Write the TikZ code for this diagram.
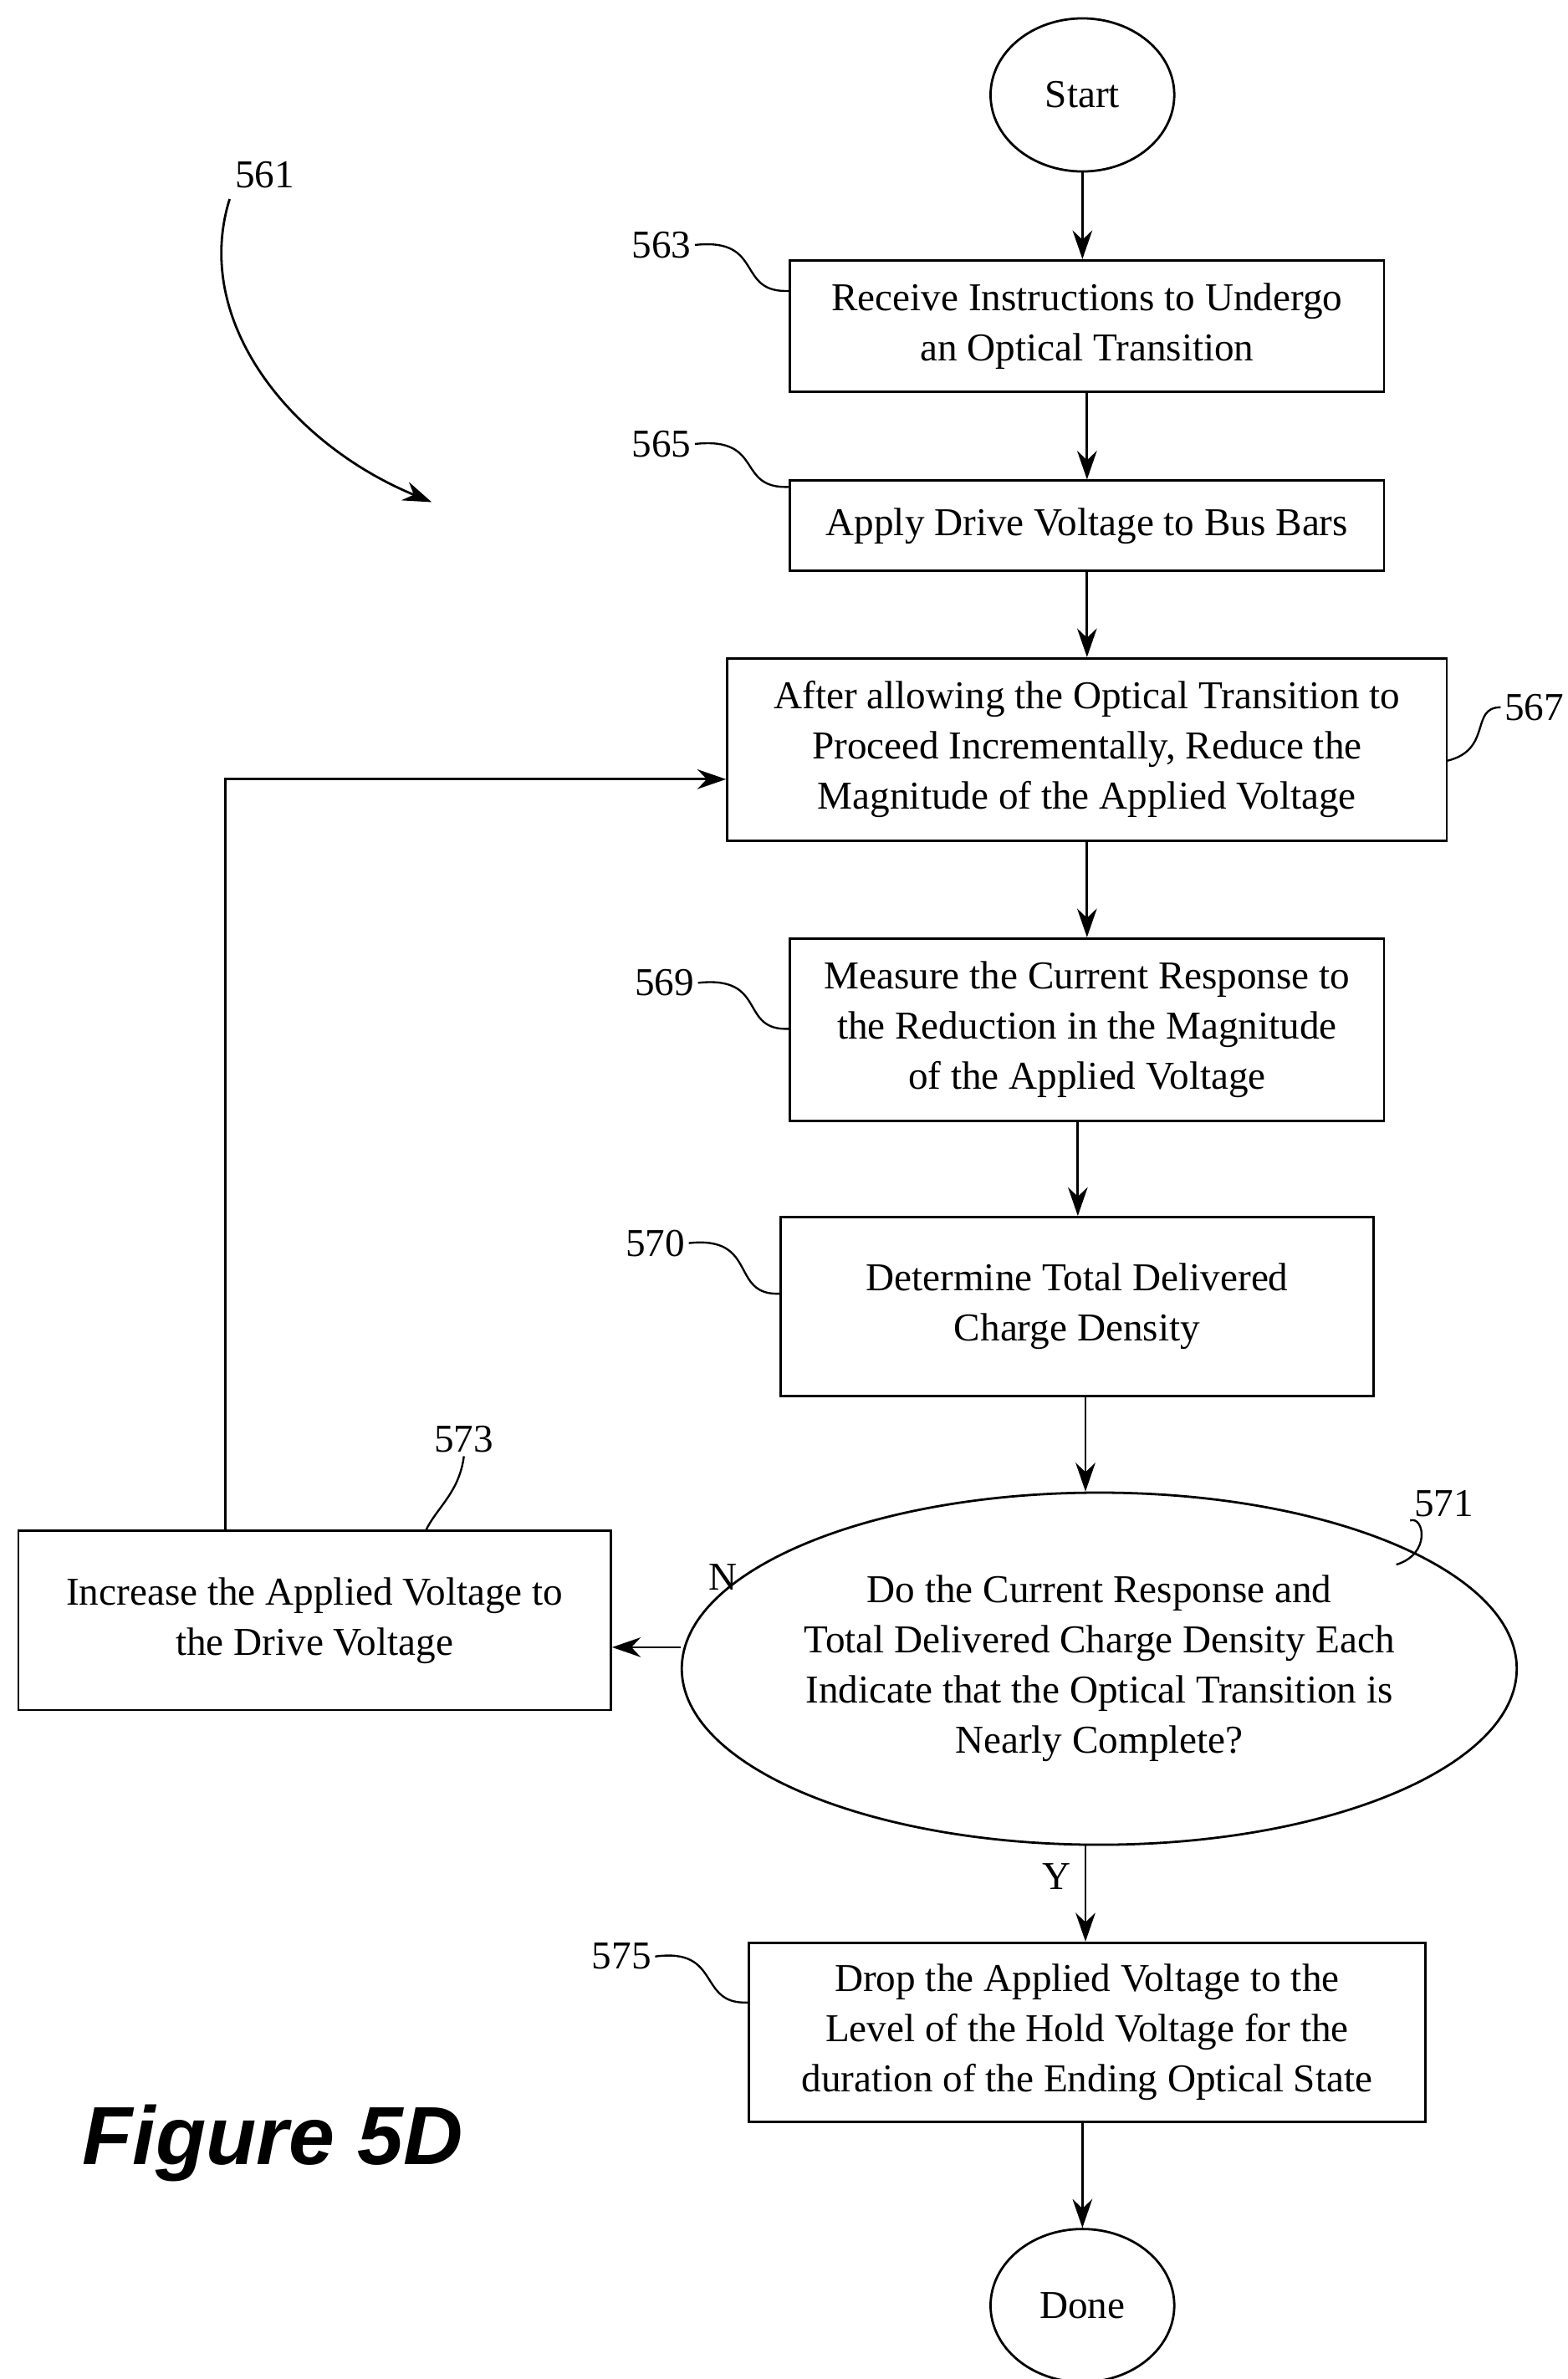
\documentclass[tikz,border=0pt]{standalone}
\usepackage{fontspec}
\setmainfont{Liberation Serif}
\newfontfamily\figfont{Liberation Sans}
\usetikzlibrary{arrows.meta,shapes.geometric}
\begin{document}
\begin{tikzpicture}[x=0.03cm,y=-0.03cm,
  every node/.style={font=\fontsize{22}{28}\selectfont},
  box/.style={draw,line width=1.3pt,rectangle,align=center,inner sep=0pt},
  oval/.style={draw,line width=1.3pt,ellipse,align=center,inner sep=0pt},
  arr/.style={line width=1.3pt,-{Stealth[length=16pt,width=11pt]}},
  lead/.style={line width=1.1pt},
  lbl/.style={inner sep=2pt}]
\useasboundingbox (0,0) rectangle (1024,1554);
\node[oval,minimum width=3.6cm,minimum height=3cm] (start) at (707,62) {Start};
\node[box,minimum width=11.64cm,minimum height=2.58cm] (b563) at (710,213) {Receive Instructions to Undergo\\an Optical Transition};
\node[box,minimum width=11.64cm,minimum height=1.77cm] (b565) at (710,343.5) {Apply Drive Voltage to Bus Bars};
\node[box,minimum width=14.1cm,minimum height=3.57cm] (b567) at (710,489.5) {After allowing the Optical Transition to\\Proceed Incrementally, Reduce the\\Magnitude of the Applied Voltage};
\node[box,minimum width=11.64cm,minimum height=3.57cm] (b569) at (710,672.5) {Measure the Current Response to\\the Reduction in the Magnitude\\of the Applied Voltage};
\node[box,minimum width=11.61cm,minimum height=3.51cm] (b570) at (703.5,853.5) {Determine Total Delivered\\Charge Density};
\node[oval,minimum width=13.98cm,minimum height=6.9cm] (d571) at (718,1090) {Do the Current Response and\\Total Delivered Charge Density Each\\Indicate that the Optical Transition is\\Nearly Complete?};
\node[box,minimum width=11.61cm,minimum height=3.51cm] (b573) at (205.5,1058.5) {Increase the Applied Voltage to\\the Drive Voltage};
\node[box,minimum width=13.26cm,minimum height=3.51cm] (b575) at (710,1327.5) {Drop the Applied Voltage to the\\Level of the Hold Voltage for the\\duration of the Ending Optical State};
\node[oval,minimum width=3.6cm,minimum height=3cm] (done) at (707,1506) {Done};

\draw[arr] (start) -- (b563.north -| start);
\draw[arr] (b563) -- (b565);
\draw[arr] (b565) -- (b567);
\draw[arr] (b567) -- (b569);
\draw[arr] (b569.south -| 704,0) -- (b570.north -| 704,0);
\draw[arr] (b570.south -| 709,0) -- (d571.north -| 709,0);
\draw[arr] (d571.south -| 709,0) -- (b575.north -| 709,0);
\draw[arr] (b575.south -| 707,0) -- (done);
\draw[arr] (d571.west |- 0,1076) -- (b573.east |- 0,1076);
\draw[arr] (b573.north -| 147,0) -- (147,509) -- (b567.west |- 0,509);
\node at (472,1030) {N};
\node at (690,1226) {Y};

\node[lbl] (l561) at (173,114) {561};
\coordinate (t561) at (282,328);
\draw[arr] (150,130) .. controls (125,210) and (190,290) .. (t561);
\node[lbl] (l563) at (432,160) {563};
\coordinate (c563) at (516,190);
\draw[lead] (l563.east) .. controls (500,155) and (480,192) .. (c563);
\node[lbl] (l565) at (432,290) {565};
\coordinate (c565) at (516,318);
\draw[lead] (l565.east) .. controls (500,285) and (480,320) .. (c565);
\node[lbl] (l567) at (1002,462) {567};
\coordinate (c567) at (945,497);
\draw[lead] (c567) .. controls (975,490) and (960,462) .. (l567.west);
\node[lbl] (l569) at (434,642) {569};
\coordinate (c569) at (516,672);
\draw[lead] (l569.east) .. controls (502,637) and (482,674) .. (c569);
\node[lbl] (l570) at (428,812) {570};
\coordinate (c570) at (510,845);
\draw[lead] (l570.east) .. controls (496,807) and (476,847) .. (c570);
\node[lbl] (l571) at (943,982) {571};
\coordinate (c571) at (912,1022);
\draw[lead] (c571) .. controls (935,1015) and (930,990) .. (l571.south west);
\node[lbl] (l573) at (303,940) {573};
\coordinate (c573) at (278,1000);
\draw[lead] (c573) .. controls (285,985) and (300,975) .. (l573.south);
\node[lbl] (l575) at (406,1278) {575};
\coordinate (c575) at (489,1308);
\draw[lead] (l575.east) .. controls (472,1272) and (455,1310) .. (c575);

\node[font=\figfont\fontsize{46}{50}\selectfont\bfseries\itshape] (fig) at (178,1400) {Figure 5D};
\end{tikzpicture}
\end{document}
